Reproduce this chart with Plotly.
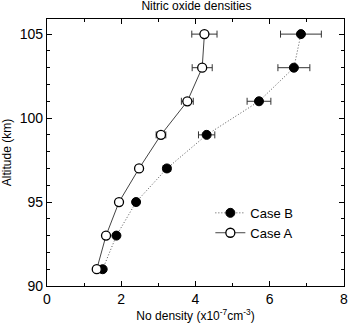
import plotly.graph_objects as go

altitude = [91, 93, 95, 97, 99, 101, 103, 105]
case_a = [1.34, 1.59, 1.94, 2.48, 3.07, 3.78, 4.18, 4.24]
case_a_err = [0.06, 0.06, 0.07, 0.08, 0.13, 0.16, 0.27, 0.34]
case_b = [1.50, 1.87, 2.40, 3.23, 4.30, 5.71, 6.65, 6.84]
case_b_err = [0.06, 0.06, 0.07, 0.10, 0.22, 0.32, 0.43, 0.55]

font = "Liberation Sans, Arial, sans-serif"

fig = go.Figure()
fig.add_trace(go.Scatter(
    x=case_b, y=altitude, name="Case B", mode="lines+markers",
    line=dict(color="#555555", width=1, dash="1px,2px"),
    marker=dict(symbol="circle", size=9, color="black", line=dict(color="black", width=1)),
    error_x=dict(type="data", array=case_b_err, visible=True, color="#333333", thickness=1, width=3.5),
))
fig.add_trace(go.Scatter(
    x=case_a, y=altitude, name="Case A", mode="lines+markers",
    line=dict(color="#444444", width=1),
    marker=dict(symbol="circle", size=9, color="white", line=dict(color="black", width=1.3)),
    error_x=dict(type="data", array=case_a_err, visible=True, color="#333333", thickness=1, width=3.5),
))

axis_common = dict(
    showline=True, linecolor="black", linewidth=1.2, mirror="ticks",
    ticks="inside", ticklen=5, tickcolor="black", showgrid=False, zeroline=False,
    tickfont=dict(family=font, size=14, color="black"),
)
fig.update_xaxes(
    range=[0, 8], tickvals=[0, 2, 4, 6, 8],
    minor=dict(dtick=1, ticks="inside", ticklen=3, tickcolor="black"),
    title=dict(text="No density (x10<sup>-7</sup>cm<sup>-3</sup>)", font=dict(family=font, size=12, color="black"), standoff=3),
    **axis_common,
)
fig.update_yaxes(
    range=[90, 105.9], tickvals=[90, 95, 100, 105],
    minor=dict(dtick=1, ticks="inside", ticklen=3, tickcolor="black"),
    title=dict(text="Altitude (km)", font=dict(family=font, size=12, color="black"), standoff=5),
    **axis_common,
)
fig.update_layout(
    width=354, height=324,
    margin=dict(l=44, r=6, t=19, b=31),
    plot_bgcolor="white", paper_bgcolor="white",
    title=dict(text="Nitric oxide densities", x=0.555, xanchor="center", y=0.995, yanchor="top",
               font=dict(family=font, size=12, color="black")),
    legend=dict(x=0.55, y=0.33, xanchor="left", yanchor="top", bgcolor="rgba(0,0,0,0)",
                font=dict(family=font, size=13, color="black"), tracegroupgap=0),
    showlegend=True,
)
fig.write_html("out.html")
